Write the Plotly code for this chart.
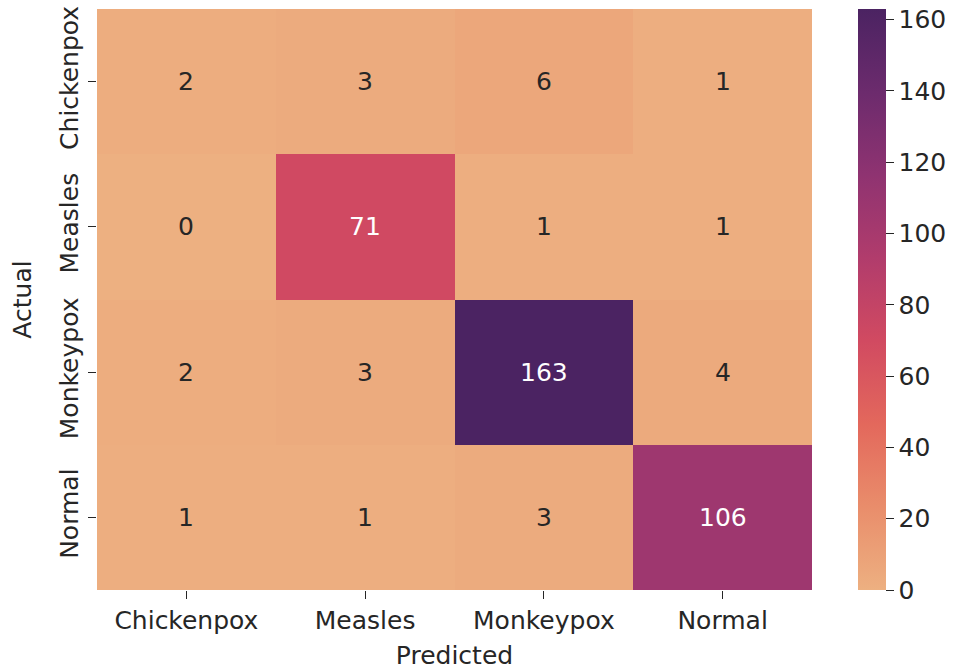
import plotly.graph_objects as go

# Confusion matrix of the classifier
classes = ["Chickenpox", "Measles", "Monkeypox", "Normal"]
counts = [
    [2, 3, 6, 1],
    [0, 71, 1, 1],
    [2, 3, 163, 4],
    [1, 1, 3, 106],
]
cbar_ticks = [0, 20, 40, 60, 80, 100, 120, 140, 160]

# "flare"-style sequential colour scale
flare = [
    [0.0, "#EDB081"],
    [0.143, "#E98D6B"],
    [0.286, "#E3685C"],
    [0.429, "#D14A61"],
    [0.571, "#B13C6C"],
    [0.714, "#8F3371"],
    [0.857, "#6C2B6D"],
    [1.0, "#4B2362"],
]

FONT = "DejaVu Sans"
FS = 25
INK = "#262626"
zmax = max(max(r) for r in counts)

fig = go.Figure(
    go.Heatmap(
        z=counts,
        x=classes,
        y=classes,
        zmin=0,
        zmax=zmax,
        colorscale=flare,
        colorbar=dict(
            xref="container",
            x=858 / 958,
            xanchor="left",
            xpad=0,
            y=0.5,
            yanchor="middle",
            ypad=0,
            len=1.0,
            lenmode="fraction",
            thickness=28,
            outlinewidth=0,
            ticks="outside",
            ticklen=8,
            tickwidth=1,
            tickcolor=INK,
            tickvals=cbar_ticks,
            tickfont=dict(family=FONT, size=FS, color=INK),
        ),
        hoverinfo="skip",
    )
)

# Cell annotations: light text on dark cells
for i, row in enumerate(counts):
    for j, v in enumerate(row):
        fig.add_annotation(
            x=classes[j],
            y=classes[i],
            text=str(v),
            showarrow=False,
            font=dict(family=FONT, size=FS, color="white" if v / zmax > 0.4 else INK),
        )

fig.update_xaxes(
    title=dict(text="Predicted", font=dict(family=FONT, size=FS, color=INK), standoff=12),
    tickfont=dict(family=FONT, size=FS, color=INK),
    ticks="outside",
    ticklen=8,
    tickcolor=INK,
    showgrid=False,
    zeroline=False,
    showline=False,
    automargin=False,
)
fig.update_yaxes(
    title=dict(text="Actual", font=dict(family=FONT, size=FS, color=INK), standoff=16),
    tickfont=dict(family=FONT, size=FS, color=INK),
    tickangle=-90,
    ticks="outside",
    ticklen=8,
    tickcolor=INK,
    autorange="reversed",
    showgrid=False,
    zeroline=False,
    showline=False,
    automargin=False,
)

fig.update_layout(
    width=958,
    height=672,
    margin=dict(l=97, r=146, t=9, b=82, autoexpand=False),
    paper_bgcolor="white",
    plot_bgcolor="white",
    font=dict(family=FONT, size=FS, color=INK),
)

fig.write_html("out.html")
